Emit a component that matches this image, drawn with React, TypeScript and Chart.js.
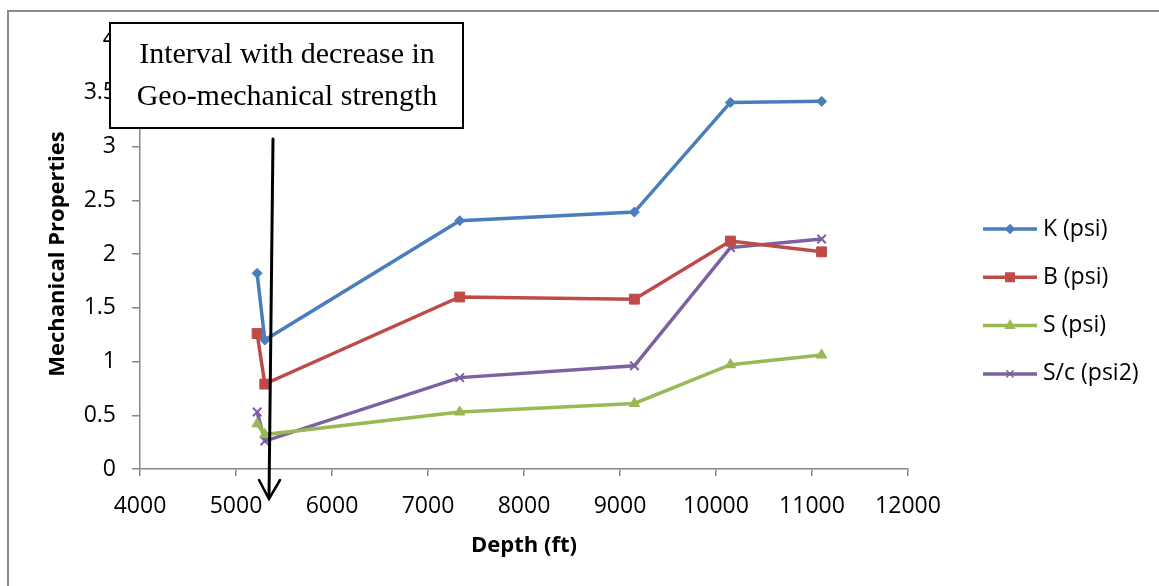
import React, { useEffect, useRef } from "react";
import { Chart, registerables } from "chart.js";
import { drawPoint } from "chart.js/helpers";

Chart.register(...registerables);

const depth = [5220, 5300, 7330, 9150, 10150, 11100];
const seriesNames = ["K (psi)", "B (psi)", "S (psi)", "S/c (psi2)"];
const kValues = [1.82, 1.2, 2.31, 2.39, 3.41, 3.42];
const bValues = [1.26, 0.79, 1.6, 1.58, 2.12, 2.02];
const sValues = [0.42, 0.32, 0.53, 0.61, 0.97, 1.06];
const scValues = [0.53, 0.26, 0.85, 0.96, 2.06, 2.14];
const colors = ["#4A7EBB", "#BE4B48", "#98B954", "#7D60A0"];
const pointStyles = ["rectRot", "rect", "triangle", "crossRot"];
const pointRadii = [5, 7, 6, 6];
const annotationLines = ["Interval with decrease in", "Geo-mechanical strength"];
const xTitle = "Depth (ft)";
const yTitle = "Mechanical Properties";

const FONT = "'Open Sans', 'Noto Sans', sans-serif";

const decorPlugin = {
  id: "decor",
  beforeDraw(chart: any) {
    const ctx = chart.ctx;
    ctx.save();
    ctx.fillStyle = "#ffffff";
    ctx.fillRect(0, 0, chart.width, chart.height);
    ctx.strokeStyle = "#8a8a8a";
    ctx.lineWidth = 2;
    ctx.beginPath();
    ctx.moveTo(8, chart.height);
    ctx.lineTo(8, 11);
    ctx.lineTo(chart.width, 11);
    ctx.stroke();
    ctx.restore();
  },
  afterDraw(chart: any) {
    const ctx = chart.ctx;
    ctx.save();
    // legend
    chart.data.datasets.forEach((ds: any, i: number) => {
      const y = 229 + i * 48.3;
      ctx.strokeStyle = ds.borderColor;
      ctx.lineWidth = 3.5;
      ctx.beginPath();
      ctx.moveTo(983, y);
      ctx.lineTo(1037, y);
      ctx.stroke();
      ctx.fillStyle = ds.borderColor;
      ctx.strokeStyle = ds.borderColor;
      ctx.lineWidth = 1.5;
      drawPoint(ctx, { pointStyle: ds.pointStyle, radius: ds.pointRadius * 0.85, rotation: 0, borderWidth: 1.5 }, 1010, y);
      ctx.fillStyle = "#000";
      ctx.font = `23px ${FONT}`;
      ctx.textAlign = "left";
      ctx.textBaseline = "middle";
      ctx.fillText(ds.label, 1043, y);
    });
    // annotation box
    ctx.fillStyle = "#ffffff";
    ctx.fillRect(110, 23, 353, 105);
    ctx.strokeStyle = "#000";
    ctx.lineWidth = 2;
    ctx.strokeRect(110, 23, 353, 105);
    ctx.fillStyle = "#000";
    ctx.font = "30px 'Liberation Serif', 'Times New Roman', serif";
    ctx.textAlign = "center";
    ctx.textBaseline = "alphabetic";
    ctx.fillText(annotationLines[0], 287, 63);
    ctx.fillText(annotationLines[1], 287, 105);
    // arrow
    ctx.strokeStyle = "#000";
    ctx.lineWidth = 3;
    ctx.lineCap = "round";
    ctx.beginPath();
    ctx.moveTo(273, 139);
    ctx.lineTo(269, 497);
    ctx.stroke();
    ctx.lineWidth = 2.5;
    ctx.beginPath();
    ctx.moveTo(259, 480);
    ctx.lineTo(269, 499);
    ctx.lineTo(280, 480);
    ctx.stroke();
    ctx.restore();
  },
};

export default function App() {
  const ref = useRef<HTMLCanvasElement | null>(null);
  useEffect(() => {
    if (!ref.current) return;
    const allValues = [kValues, bValues, sValues, scValues];
    const chart = new Chart(ref.current, {
      type: "line",
      data: {
        datasets: allValues.map((vals, i) => ({
          label: seriesNames[i],
          data: depth.map((d, j) => ({ x: d, y: vals[j] })),
          borderColor: colors[i],
          backgroundColor: colors[i],
          pointBackgroundColor: colors[i],
          pointBorderColor: colors[i],
          pointStyle: pointStyles[i] as any,
          pointRadius: pointRadii[i],
          pointBorderWidth: i === 3 ? 2 : 1,
          borderWidth: 3.5,
          tension: 0,
          fill: false,
        })),
      },
      options: {
        animation: false,
        responsive: false,
        devicePixelRatio: 1,
        layout: { padding: { left: 45, right: 251, top: 39, bottom: 27 } },
        plugins: { legend: { display: false }, tooltip: { enabled: false } },
        scales: {
          x: {
            type: "linear",
            min: 4000,
            max: 12000,
            afterFit: (s: any) => {
              s.height = 90;
            },
            ticks: {
              stepSize: 1000,
              color: "#000",
              padding: 17,
              font: { family: FONT, size: 23 },
              callback: (v: any) => String(v),
            },
            grid: { display: true, drawOnChartArea: false, drawTicks: true, tickLength: 7, color: "#888", lineWidth: 1.5 },
            border: { display: true, color: "#888", width: 1.5 },
            title: {
              display: true,
              text: xTitle,
              color: "#000",
              padding: 0,
              font: { family: FONT, size: 22, weight: "bold", lineHeight: 1.2 },
            },
          },
          y: {
            type: "linear",
            min: 0,
            max: 4,
            afterFit: (s: any) => {
              s.width = 95;
            },
            ticks: {
              stepSize: 0.5,
              color: "#000",
              padding: 16,
              font: { family: FONT, size: 23 },
              callback: (v: any) => String(v),
            },
            grid: { display: true, drawOnChartArea: false, drawTicks: true, tickLength: 8, color: "#888", lineWidth: 1.5 },
            border: { display: true, color: "#888", width: 1.5 },
            title: {
              display: true,
              text: yTitle,
              color: "#000",
              padding: 0,
              font: { family: FONT, size: 22, weight: "bold", lineHeight: 1.2 },
            },
          },
        },
      },
      plugins: [decorPlugin],
    });
    return () => chart.destroy();
  }, []);
  return (
    <div style={{ position: "fixed", left: 0, top: 0, width: 1159, height: 586, background: "#fff" }}>
      <canvas ref={ref} width={1159} height={586} style={{ display: "block" }} />
    </div>
  );
}
